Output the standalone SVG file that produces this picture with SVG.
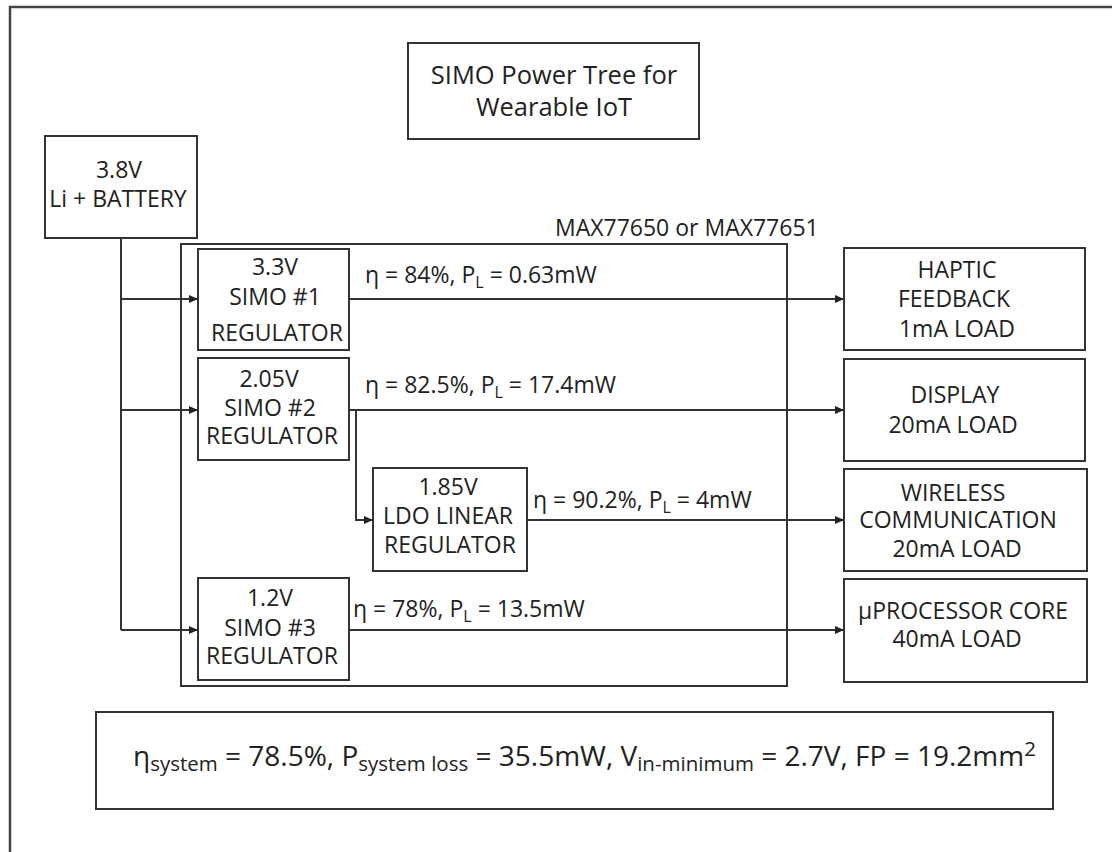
<svg xmlns="http://www.w3.org/2000/svg" width="1112" height="852" viewBox="0 0 1112 852">
<defs>
<style>
.box{fill:#fff;stroke:#333;stroke-width:2}
.frame{fill:none;stroke:#444;stroke-width:2.5}
.t{font-family:"Open Sans","Noto Sans",sans-serif;font-size:23px;fill:#222;text-anchor:middle}
.lbl{font-family:"Open Sans","Noto Sans",sans-serif;font-size:23px;fill:#222}
.ttl{font-family:"Open Sans","Noto Sans",sans-serif;font-size:25.5px;fill:#222;text-anchor:middle}
.bt{font-family:"Open Sans","Noto Sans",sans-serif;font-size:28px;fill:#222}
.wire{fill:none;stroke:#333;stroke-width:2}
.arr{fill:none;stroke:#333;stroke-width:2;marker-end:url(#ah)}
</style>
<marker id="ah" markerUnits="userSpaceOnUse" markerWidth="9" markerHeight="8" refX="9" refY="4" orient="auto">
<path d="M0,0 L9,4 L0,8 z" fill="#222"/>
</marker>
</defs>
<rect width="1112" height="852" fill="#fff"/>
<path class="frame" d="M1112 7 H10 V852"/>

<g id="title">
<rect class="box" x="408" y="43" width="291" height="96"/>
<text class="ttl" x="554" y="84">SIMO Power Tree for</text>
<text class="ttl" x="554" y="116">Wearable IoT</text>
</g>

<g id="battery">
<rect class="box" x="45" y="136" width="152" height="102"/>
<text class="t" x="119" y="178">3.8V</text>
<text class="t" x="118" y="207">Li + BATTERY</text>
</g>

<g id="max-chip">
<rect x="181" y="244" width="606" height="442" fill="none" stroke="#333" stroke-width="2"/>
<text class="lbl" x="555" y="236">MAX77650 or MAX77651</text>
</g>

<g id="connectors">
<path class="wire" d="M121 238 V630"/>
<path class="arr" d="M121 299 H198"/>
<path class="arr" d="M121 410 H198"/>
<path class="arr" d="M121 630 H198"/>
<path class="arr" d="M349 299 H844"/>
<path class="arr" d="M349 410 H844"/>
<path class="arr" d="M356 410 V520 H373"/>
<path class="arr" d="M527 520 H844"/>
<path class="arr" d="M349 630 H844"/>
<text class="lbl" x="365" y="283">η = 84%, P<tspan font-size="16" dy="5">L</tspan><tspan dy="-5"> = 0.63mW</tspan></text>
<text class="lbl" x="365" y="393">η = 82.5%, P<tspan font-size="16" dy="5">L</tspan><tspan dy="-5"> = 17.4mW</tspan></text>
<text class="lbl" x="533" y="508">η = 90.2%, P<tspan font-size="16" dy="5">L</tspan><tspan dy="-5"> = 4mW</tspan></text>
<text class="lbl" x="353" y="617">η = 78%, P<tspan font-size="16" dy="5">L</tspan><tspan dy="-5"> = 13.5mW</tspan></text>
</g>

<g id="simo1">
<rect class="box" x="198" y="249" width="151" height="101"/>
<text class="t" x="275" y="275">3.3V</text>
<text class="t" x="275" y="305">SIMO #1</text>
<text class="t" x="277" y="341">REGULATOR</text>
</g>

<g id="simo2">
<rect class="box" x="198" y="358" width="151" height="102"/>
<text class="t" x="269" y="387">2.05V</text>
<text class="t" x="270" y="416">SIMO #2</text>
<text class="t" x="272" y="444">REGULATOR</text>
</g>

<g id="ldo">
<rect class="box" x="373" y="468" width="154" height="103"/>
<text class="t" x="448" y="495">1.85V</text>
<text class="t" x="448" y="524">LDO LINEAR</text>
<text class="t" x="450" y="553">REGULATOR</text>
</g>

<g id="simo3">
<rect class="box" x="198" y="578" width="151" height="102"/>
<text class="t" x="270" y="606">1.2V</text>
<text class="t" x="270" y="636">SIMO #3</text>
<text class="t" x="272" y="664">REGULATOR</text>
</g>

<g id="haptic">
<rect class="box" x="844" y="248" width="241" height="102"/>
<text class="t" x="957" y="278">HAPTIC</text>
<text class="t" x="954" y="307">FEEDBACK</text>
<text class="t" x="957" y="337">1mA LOAD</text>
</g>

<g id="display">
<rect class="box" x="844" y="359" width="241" height="102"/>
<text class="t" x="955" y="403">DISPLAY</text>
<text class="t" x="953" y="433">20mA LOAD</text>
</g>

<g id="wireless">
<rect class="box" x="844" y="469" width="243" height="102"/>
<text class="t" x="953" y="501">WIRELESS</text>
<text class="t" x="958" y="528">COMMUNICATION</text>
<text class="t" x="957" y="557">20mA LOAD</text>
</g>

<g id="processor">
<rect class="box" x="844" y="579" width="243" height="103"/>
<text class="t" x="963" y="619">µPROCESSOR CORE</text>
<text class="t" x="957" y="647">40mA LOAD</text>
</g>

<g id="summary">
<rect class="box" x="96" y="712" width="957" height="97"/>
<text class="bt" x="133" y="766">η<tspan font-size="20.5" dy="5">system</tspan><tspan dy="-5"> = 78.5%, P</tspan><tspan font-size="20.5" dy="5">system loss</tspan><tspan dy="-5"> = 35.5mW, V</tspan><tspan font-size="20.5" dy="5">in-minimum</tspan><tspan dy="-5"> = 2.7V, FP = 19.2mm</tspan><tspan font-size="20.5" dy="-10">2</tspan></text>
</g>
</svg>
